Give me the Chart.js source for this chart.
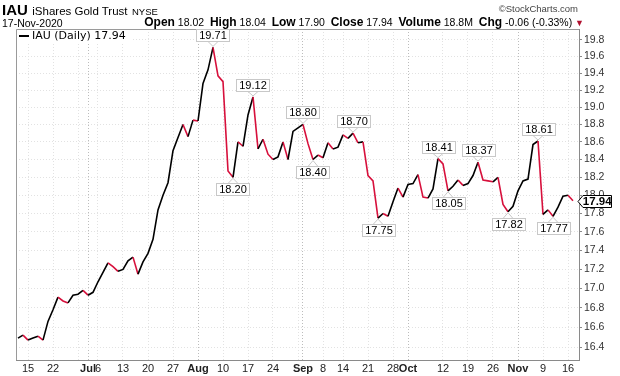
<!DOCTYPE html>
<html><head><meta charset="utf-8">
<script src="https://cdn.jsdelivr.net/npm/chart.js@4.4.1/dist/chart.umd.min.js"></script>
<style>
html,body{margin:0;padding:0;background:#fff;}
#wrap{position:relative;width:620px;height:376px;overflow:hidden;font-family:"Liberation Sans",Arial,sans-serif;color:#000;}
#c{position:absolute;left:0;top:0;}
.hd{position:absolute;white-space:nowrap;z-index:2;}
</style></head>
<body>
<div id="wrap">
<canvas id="c" width="620" height="376"></canvas>
<div class="hd" style="left:2px;top:1px;line-height:17px;"><b style="font-size:15px;">IAU</b> <span style="font-size:11.5px;">iShares Gold Trust</span> <span style="font-size:9.5px;">NYSE</span></div>
<div class="hd" style="right:42px;top:3px;font-size:9.5px;color:#444;line-height:12px;">&copy;StockCharts.com</div>
<div class="hd" style="left:2px;top:17px;font-size:10.5px;line-height:12px;">17-Nov-2020</div>
<div class="hd" style="right:36px;top:16px;font-size:10.5px;line-height:13px;"><b style="font-size:12px;">Open</b> 18.02 &nbsp;<b style="font-size:12px;">High</b> 18.04 &nbsp;<b style="font-size:12px;">Low</b> 17.90 &nbsp;<b style="font-size:12px;">Close</b> 17.94 &nbsp;<b style="font-size:12px;">Volume</b> 18.8M &nbsp;<b style="font-size:12px;">Chg</b> -0.06 (-0.33%) <span style="color:#b0102f;font-size:9px;">&#9660;</span></div>
</div>
<script>
// ---- data ----
const dates = [
'06-11','06-12','06-15','06-16','06-17','06-18','06-19','06-22','06-23','06-24','06-25','06-26','06-29','06-30',
'07-01','07-02','07-06','07-07','07-08','07-09','07-10','07-13','07-14','07-15','07-16','07-17','07-20','07-21','07-22','07-23','07-24','07-27','07-28','07-29','07-30','07-31',
'08-03','08-04','08-05','08-06','08-07','08-10','08-11','08-12','08-13','08-14','08-17','08-18','08-19','08-20','08-21','08-24','08-25','08-26','08-27','08-28','08-31',
'09-01','09-02','09-03','09-04','09-08','09-09','09-10','09-11','09-14','09-15','09-16','09-17','09-18','09-21','09-22','09-23','09-24','09-25','09-28','09-29','09-30',
'10-01','10-02','10-05','10-06','10-07','10-08','10-09','10-12','10-13','10-14','10-15','10-16','10-19','10-20','10-21','10-22','10-23','10-26','10-27','10-28','10-29','10-30',
'11-02','11-03','11-04','11-05','11-06','11-09','11-10','11-11','11-12','11-13','11-16','11-17'];
const closes = [
16.49,16.52,16.47,16.49,16.51,16.47,16.66,16.78,16.91,16.87,16.85,16.93,16.94,16.98,
16.93,16.96,17.07,17.17,17.27,17.23,17.18,17.20,17.29,17.33,17.15,17.28,17.37,17.52,17.84,18.00,18.14,18.50,18.65,18.80,18.66,18.85,
18.84,19.28,19.44,19.71,19.37,19.30,18.27,18.20,18.60,18.55,18.91,19.12,18.52,18.63,18.46,18.40,18.43,18.60,18.40,18.72,18.76,
18.80,18.58,18.40,18.45,18.42,18.59,18.52,18.54,18.68,18.64,18.70,18.59,18.60,18.22,18.16,17.75,17.80,17.77,17.93,18.08,17.98,
18.12,18.13,18.23,17.98,17.97,18.07,18.41,18.35,18.05,18.10,18.17,18.11,18.13,18.22,18.37,18.17,18.16,18.15,18.20,17.90,17.82,17.88,
18.05,18.16,18.18,18.57,18.61,17.79,17.84,17.77,17.87,17.99,18.00,17.94];
const gridDates  = ['06-15','06-22','06-29','07-01','07-06','07-13','07-20','07-27','08-03','08-10','08-17','08-24','08-31','09-01','09-08','09-14','09-21','09-28','10-01','10-12','10-19','10-26','11-02','11-09','11-16'];
const gridLabels = ['15','22','','Jul','6','13','20','27','Aug','10','17','24','','Sep','8','14','21','28','Oct','12','19','26','Nov','9','16'];
const monthDates = ['07-01','08-03','09-01','10-01','11-02'];
const yTicks = [16.4,16.6,16.8,17.0,17.2,17.4,17.6,17.8,18.0,18.2,18.4,18.6,18.8,19.0,19.2,19.4,19.6,19.8];
const highDates = ['08-06','08-18','09-01','09-16','10-09','10-21','11-06'];
const lowDates  = ['08-12','09-03','09-23','10-13','10-29','11-11'];
const legendText = 'IAU (Daily) 17.94';

// ---- derived ----
const gridIdx = gridDates.map(d => dates.indexOf(d));
const labelOf = {}; gridIdx.forEach((v,k)=>labelOf[v]=gridLabels[k]);
const monthIdx = new Set(monthDates.map(d => dates.indexOf(d)));
const pts = closes.map((v,i)=>({x:i,y:v}));
const RED = '#d7103c', BLK = '#000';
const FONT = '"Liberation Sans", Arial, sans-serif';

const overlay = {
  id:'overlay',
  beforeDatasetsDraw(chart){
    const c = chart.ctx, a = chart.chartArea;
    c.save();
    c.strokeStyle = '#9a9a9a'; c.lineWidth = 1;
    c.beginPath();
    c.moveTo(a.left+0.5, a.bottom); c.lineTo(a.left+0.5, a.top+0.5); c.lineTo(a.right, a.top+0.5);
    c.stroke();
    c.restore();
  },
  afterDatasetsDraw(chart){
    const c = chart.ctx, a = chart.chartArea, meta = chart.getDatasetMeta(0);
    c.save();
    c.font = '11px ' + FONT;
    const draw = (i, up) => {
      const p = meta.data[i];
      const txt = closes[i].toFixed(2);
      const w = Math.round(c.measureText(txt).width + 5), h = 12;
      const bx = Math.round(p.x - w/2) + 0.5;
      const by = Math.round(up ? p.y - 6 - h : p.y + 6) + 0.5;
      c.beginPath();
      if (up) { c.moveTo(p.x-5, by+h); c.lineTo(p.x, p.y-1); c.lineTo(p.x+5, by+h); }
      else    { c.moveTo(p.x-5, by);   c.lineTo(p.x, p.y+1); c.lineTo(p.x+5, by); }
      c.fillStyle = '#fff'; c.fill();
      c.strokeStyle = '#c8c8c8'; c.lineWidth = 1; c.stroke();
      c.fillStyle = '#fff'; c.fillRect(bx, by, w, h);
      c.strokeRect(bx, by, w, h);
      c.fillStyle = '#000'; c.textAlign = 'center'; c.textBaseline = 'middle';
      c.fillText(txt, bx + w/2, by + h/2 + 0.5);
    };
    highDates.forEach(d => draw(dates.indexOf(d), true));
    lowDates.forEach(d => draw(dates.indexOf(d), false));
    // legend
    c.font = '11px "DejaVu Sans", sans-serif';
    const lw = c.measureText(legendText).width;
    c.fillStyle = '#fff';
    c.fillRect(a.left+1, a.top+1, lw + 22, 12);
    c.fillStyle = '#000';
    c.fillRect(a.left+3, a.top+6, 10, 2);
    c.textAlign = 'left'; c.textBaseline = 'middle';
    c.fillText(legendText, a.left+16, a.top+7);
    c.restore();
  },
  afterDraw(chart){
    const c = chart.ctx, a = chart.chartArea;
    const v = closes[closes.length-1];
    const y = Math.round(chart.scales.y.getPixelForValue(v)) + 0.5;
    const x0 = a.right - 1;
    c.save();
    c.beginPath();
    c.moveTo(x0, y); c.lineTo(x0+5, y-6); c.lineTo(611.5, y-6); c.lineTo(611.5, y+6); c.lineTo(x0+5, y+6); c.closePath();
    c.fillStyle = '#fff'; c.fill();
    c.strokeStyle = '#000'; c.lineWidth = 1; c.stroke();
    c.font = 'bold 11.5px ' + FONT;
    c.fillStyle = '#000'; c.textAlign = 'center'; c.textBaseline = 'middle';
    c.fillText(v.toFixed(2), (x0+5+611.5)/2, y+0.5);
    c.restore();
  }
};

new Chart(document.getElementById('c'), {
  type:'line',
  data:{ datasets:[{
    data: pts,
    borderWidth: 1.6,
    borderColor: BLK,
    pointRadius: 0,
    tension: 0,
    segment:{ borderColor: ctx => ctx.p1.parsed.y < ctx.p0.parsed.y ? RED : BLK }
  }]},
  options:{
    responsive:false, animation:false, devicePixelRatio:1,
    layout:{ padding:{ left:16, top:29, right:0, bottom:0 } },
    plugins:{ legend:{display:false}, tooltip:{enabled:false} },
    scales:{
      x:{
        type:'linear', min:-0.4, max:112.2,
        afterBuildTicks: s => { s.ticks = gridIdx.map(v => ({value:v})); },
        afterFit: s => { s.height = 16; },
        grid:{ color: ctx => monthIdx.has(ctx.tick && ctx.tick.value) ? '#bcbcbc' : '#e2e2e2', drawTicks:false },
        border:{ display:true, color:'#8a8a8a', dash:[1,2] },
        ticks:{
          autoSkip:false, maxRotation:0, padding:2, color:'#222',
          callback: v => labelOf[v] !== undefined ? labelOf[v] : '',
          font: ctx => ({ family: FONT, size: 11, weight: (ctx.tick && monthIdx.has(ctx.tick.value)) ? 'bold' : 'normal' })
        }
      },
      y:{
        type:'logarithmic', position:'right', min:16.27, max:19.934,
        afterBuildTicks: s => { s.ticks = yTicks.map(v => ({value:v})); },
        afterFit: s => { s.width = 41; },
        grid:{ color:'#e2e2e2', drawTicks:true, tickLength:3, tickColor:'#8a8a8a' },
        border:{ display:true, color:'#8a8a8a', dash:[1,2] },
        ticks:{ callback: v => Number(v).toFixed(1), color:'#333', padding:2, font:{ family: FONT, size: 10.5 } }
      }
    }
  },
  plugins:[overlay]
});
</script>
</body></html>
